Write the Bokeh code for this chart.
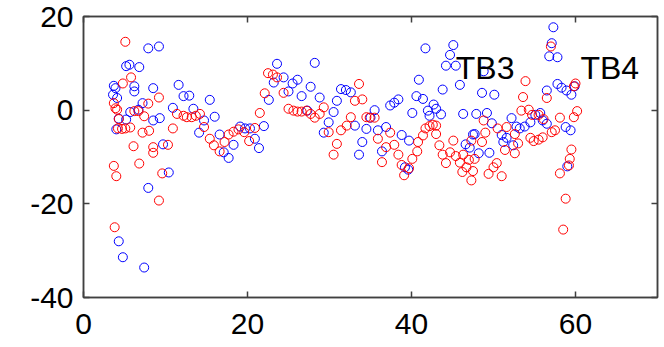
from bokeh.plotting import figure
from bokeh.models import FixedTicker, LinearAxis, Range1d, Label
from bokeh.embed import file_html
from bokeh.resources import INLINE

x_ticks = [0, 20, 40, 60]
y_ticks = [-40, -20, 0, 20]
labels_text = ["TB3", "TB4"]
labels_x = [45.4, 60.6]
labels_y = [9.1, 9.1]

blue_x = [3.7, 3.9, 3.6, 4.1, 5.2, 5.6, 6.8, 7.9, 9.2, 6.2, 6.2, 8.5, 11.6, 12.2, 12.9, 10.9, 7.2, 5.7, 6.7, 4.3,
          5.2, 4.0, 8.5, 9.3, 9.7, 10.4, 7.9, 4.3, 4.8, 7.4, 13.4, 15.4, 16.0, 14.7, 14.1, 16.6, 17.1, 17.7, 18.3, 19.1,
          19.7, 20.3, 20.9, 21.4, 22.0, 22.6, 23.2, 23.6, 24.4, 25.0, 25.5, 26.1, 26.6, 27.7, 28.2, 28.8, 27.3, 29.3, 29.9, 30.5,
          30.9, 31.4, 32.0, 32.6, 33.1, 33.6, 34.0, 34.5, 35.0, 35.5, 35.9, 36.4, 36.9, 37.4, 37.9, 38.4, 38.8, 39.7, 39.2, 39.6,
          40.1, 40.6, 40.9, 41.4, 41.7, 42.0, 42.2, 42.7, 43.0, 43.6, 43.8, 44.2, 44.7, 45.1, 45.4, 45.9, 46.3, 46.6, 47.1, 47.5,
          47.9, 48.2, 48.6, 48.8, 49.2, 49.5, 49.8, 50.1, 51.0, 51.2, 51.6, 52.2, 52.4, 52.8, 53.2, 53.8, 54.5, 55.1, 55.7, 56.0,
          56.5, 56.5, 56.8, 57.1, 57.3, 57.8, 57.8, 58.3, 58.9, 59.5, 59.9, 58.8, 59.4, 59.0, 47.7]
blue_y = [5.2, 4.7, 3.3, 2.6, 9.4, 9.7, 9.2, 13.2, 13.6, 5.1, 4.0, 4.7, 5.4, 3.0, 3.1, 0.5, 1.5, -0.4, 0.1, -1.8,
          -2.0, -4.1, -2.2, -1.7, -7.3, -13.3, -16.6, -28.0, -31.4, -33.6, 0.3, 2.2, -1.4, -2.2, -4.8, -5.2, -9.0, -10.2, -7.4, -3.5,
          -3.9, -3.9, -6.1, -8.1, -3.4, 2.2, 5.9, 9.9, 7.0, 4.0, 5.7, 6.5, 3.0, 5.0, 10.1, 2.7, -0.1, -4.8, -2.6, -0.4,
          2.0, 4.5, 4.3, 3.8, -3.3, -9.5, -6.8, -4.0, -1.6, 0.0, -4.3, -8.8, -3.6, 1.0, 1.6, 2.3, -5.3, -6.5, -12.2, -12.7,
          -0.6, 3.0, 6.5, 2.4, 13.2, -0.1, -1.2, 1.2, 0.3, -0.9, 4.4, 9.5, 11.8, 13.9, 9.5, 5.4, -0.8, -7.3, -8.0, -5.2,
          -0.8, -9.2, 3.7, 8.3, -0.6, -9.1, -2.8, 3.3, -5.3, -6.8, -5.9, -1.7, -7.5, -3.5, -3.9, -3.5, -2.6, -1.0, -0.6, -2.2,
          -2.9, 4.2, 11.5, 14.3, 17.7, 11.3, 5.6, 4.8, 4.2, 3.3, 5.1, -3.6, -4.3, -12.0, -5.1]

red_x = [5.1, 5.8, 4.8, 9.2, 7.9, 3.7, 3.9, 4.1, 6.2, 6.7, 7.4, 4.3, 4.2, 4.7, 5.1, 5.7, 7.2, 8.0, 10.9, 6.1,
         8.5, 8.5, 10.3, 3.7, 6.8, 4.0, 9.6, 9.2, 3.8, 11.4, 12.2, 12.6, 13.2, 13.7, 14.2, 14.7, 15.4, 15.9, 16.6, 17.2,
         17.7, 18.3, 18.9, 19.6, 20.2, 20.9, 21.5, 22.1, 22.5, 23.1, 23.6, 24.4, 25.0, 25.6, 26.1, 26.6, 27.2, 27.7, 28.2, 28.8,
         29.3, 29.9, 30.5, 30.9, 31.4, 32.1, 32.6, 33.1, 33.6, 34.0, 34.5, 34.9, 35.5, 35.9, 36.4, 36.9, 37.4, 37.9, 38.4, 38.8,
         39.1, 39.7, 40.1, 40.7, 40.8, 41.4, 41.7, 42.2, 42.6, 43.0, 43.0, 43.4, 43.8, 44.2, 44.7, 45.1, 45.4, 45.9, 46.2, 46.3,
         46.7, 47.0, 47.3, 47.5, 47.3, 47.7, 48.6, 48.8, 49.0, 49.4, 50.0, 50.4, 50.5, 51.0, 51.4, 51.6, 52.6, 52.6, 53.0, 53.4,
         53.6, 53.9, 54.3, 54.5, 54.7, 54.9, 55.5, 55.5, 56.0, 56.1, 56.5, 57.0, 57.1, 57.5, 58.1, 58.1, 58.5, 58.8, 59.2, 59.3,
         59.5, 59.8, 60.2, 59.8, 60.0]
red_y = [14.6, 7.0, 5.7, 2.7, 1.4, 1.5, 0.4, 0.1, -0.2, -0.2, -1.3, -1.9, -3.9, -4.0, -3.9, -3.7, -4.8, -4.4, -3.9, -7.7,
         -7.9, -9.1, -7.4, -11.9, -11.4, -14.1, -13.5, -19.3, -25.0, -0.8, -1.2, -1.5, -1.5, -1.2, -0.8, -3.6, -6.1, -7.5, -8.8, -6.8,
         -5.2, -4.6, -4.1, -4.7, -6.6, -3.8, -0.6, 3.6, 7.9, 7.6, 7.0, 3.7, 0.3, -0.1, -0.3, -0.3, -0.1, -0.8, -1.6, -0.8,
         0.6, -4.7, -9.5, -7.2, -4.3, -3.3, -1.5, 2.0, 5.6, 2.3, -1.5, -1.6, -1.6, -6.1, -11.1, -7.9, -4.8, -7.4, -9.5, -11.7,
         -13.9, -12.4, -10.4, -8.8, -6.8, -5.4, -3.9, -3.4, -3.1, -3.3, -5.1, -7.5, -9.5, -11.3, -9.0, -6.5, -9.8, -11.2, -13.2, -9.5,
         -12.2, -10.6, -15.0, -13.0, -6.5, -10.4, -6.8, -2.2, -4.8, -13.6, -12.2, -11.3, -3.9, -14.1, -8.5, -3.6, -5.1, -9.2, -7.1, -0.1,
         2.8, 6.2, 0.1, -5.9, -1.0, -6.6, -1.0, -6.3, -5.8, -1.9, 2.6, 13.6, -4.7, -4.3, -1.6, -13.5, -25.5, -18.9, -11.8, -10.4,
         -8.4, -1.5, -0.2, 5.1, 5.7]

FONT = "Liberation Sans"
AX = "#404040"

p = figure(width=664, height=347, output_backend="svg", toolbar_location=None,
           x_range=Range1d(0, 70), y_range=Range1d(-40, 20),
           min_border_left=83, min_border_right=7, min_border_top=16, min_border_bottom=50,
           x_axis_location=None, y_axis_location=None)
p.grid.visible = False
p.outline_line_color = AX
p.outline_line_width = 1.5
p.background_fill_color = "white"
p.border_fill_color = "white"


def tick_only(ax, ticks):
    ax.ticker = FixedTicker(ticks=[], minor_ticks=ticks)
    ax.minor_tick_in = 6
    ax.minor_tick_out = 0
    ax.minor_tick_line_color = AX
    ax.minor_tick_line_width = 1.5
    ax.major_tick_line_color = None
    ax.axis_line_color = AX
    ax.axis_line_width = 1.5
    ax.major_label_standoff = 0


def labelled(ax, ticks, standoff):
    ax.ticker = FixedTicker(ticks=ticks)
    ax.major_label_overrides = {t: str(t) for t in ticks}
    ax.major_tick_in = 6
    ax.major_tick_out = 0
    ax.minor_tick_line_color = None
    ax.axis_line_color = AX
    ax.axis_line_width = 1.5
    ax.major_tick_line_color = AX
    ax.major_tick_line_width = 1.5
    ax.major_label_text_font = FONT
    ax.major_label_text_font_size = "30px"
    ax.major_label_text_color = "black"
    ax.major_label_standoff = standoff


bx = LinearAxis()
labelled(bx, x_ticks, 16)
p.add_layout(bx, "below")

ly = LinearAxis()
labelled(ly, y_ticks, 10)
p.add_layout(ly, "left")

tx = LinearAxis()
tick_only(tx, x_ticks)
p.add_layout(tx, "above")
ry = LinearAxis()
tick_only(ry, y_ticks)
p.add_layout(ry, "right")

p.scatter(blue_x, blue_y, marker="circle", size=9, fill_color=None, line_color="#0000ff", line_width=1)
p.scatter(red_x, red_y, marker="circle", size=9, fill_color=None, line_color="#ff0000", line_width=1)

for t, lx, ly_ in zip(labels_text, labels_x, labels_y):
    p.add_layout(Label(x=lx, y=ly_, text=t, text_font=FONT, text_font_size="32px",
                       text_color="black", text_baseline="alphabetic", text_align="left"))

open("out.html", "w").write(file_html(p, INLINE))
